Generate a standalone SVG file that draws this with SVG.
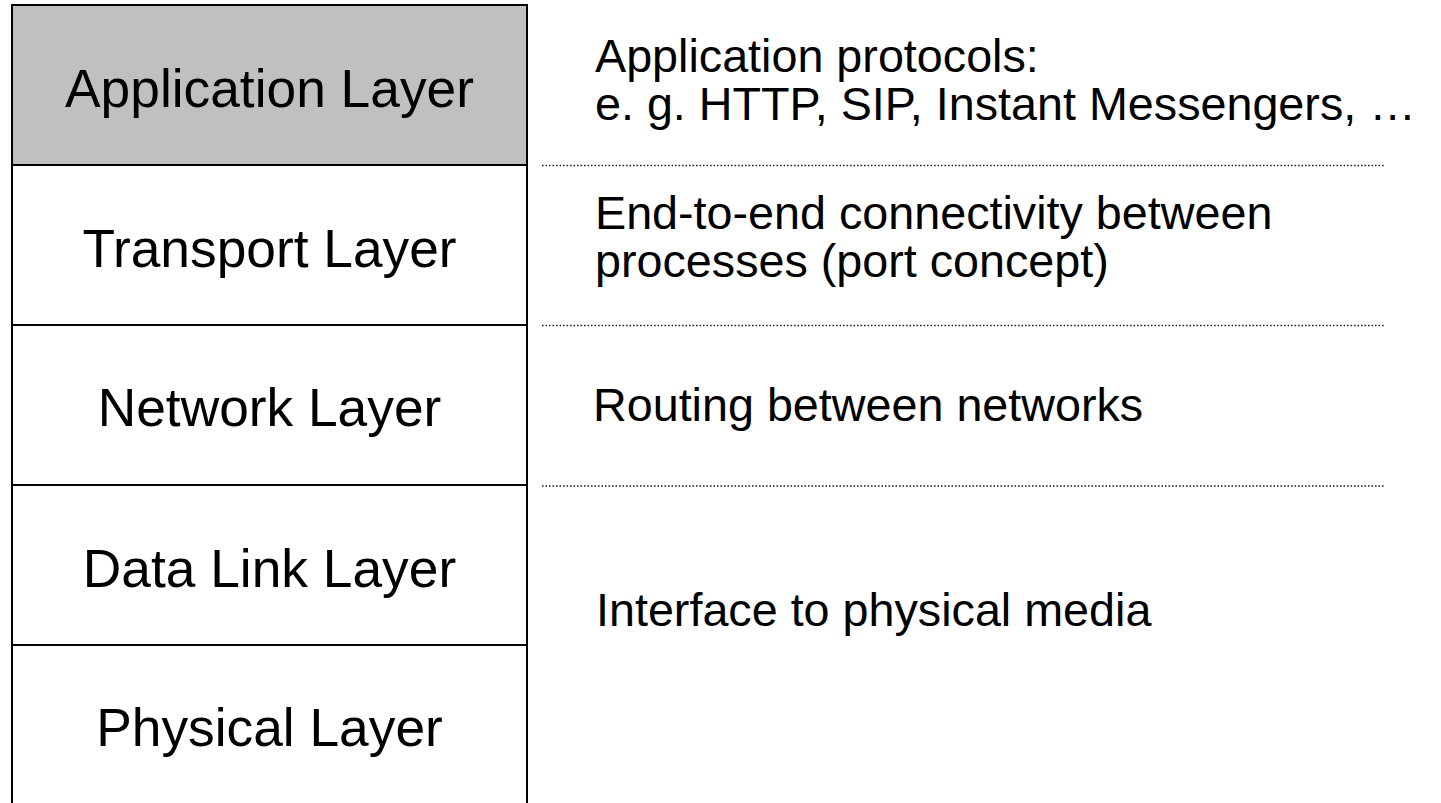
<svg xmlns="http://www.w3.org/2000/svg" width="1441" height="803" viewBox="0 0 1441 803">
  <style>
    .box { stroke: #000; stroke-width: 2; }
    .layer { font-family: "Liberation Sans", Arial, sans-serif; font-size: 53.3px; fill: #000; text-anchor: middle; }
    .desc { font-family: "Liberation Sans", Arial, sans-serif; font-size: 46.7px; fill: #000; }
    .sep { stroke: #222; stroke-width: 1.6; stroke-dasharray: 1.6 1.9; fill: none; }
  </style>
  <rect x="0" y="0" width="1441" height="803" fill="#fff"/>
  <g id="application-layer">
    <rect class="box" x="12" y="5" width="515" height="160" fill="#c0c0c0"/>
    <text class="layer" x="269.5" y="107">Application Layer</text>
  </g>
  <g id="transport-layer">
    <rect class="box" x="12" y="165" width="515" height="160" fill="#fff"/>
    <text class="layer" x="269.5" y="267">Transport Layer</text>
  </g>
  <g id="network-layer">
    <rect class="box" x="12" y="325" width="515" height="160" fill="#fff"/>
    <text class="layer" x="269.5" y="426">Network Layer</text>
  </g>
  <g id="data-link-layer">
    <rect class="box" x="12" y="485" width="515" height="160" fill="#fff"/>
    <text class="layer" x="269.5" y="587">Data Link Layer</text>
  </g>
  <g id="physical-layer">
    <path class="box" d="M12,645 H527 M12,645 V803 M527,645 V803" fill="none"/>
    <text class="layer" x="269.5" y="746">Physical Layer</text>
  </g>
  <g id="connectors">
    <line class="sep" x1="542" y1="165.5" x2="1385" y2="165.5"/>
    <line class="sep" x1="542" y1="325.5" x2="1385" y2="325.5"/>
    <line class="sep" x1="542" y1="486" x2="1385" y2="486"/>
  </g>
  <g id="desc-application">
    <text class="desc" x="595" y="72">Application protocols:</text>
    <text class="desc" x="595" y="120">e. g. HTTP, SIP, Instant Messengers, …</text>
  </g>
  <g id="desc-transport">
    <text class="desc" x="595" y="229">End-to-end connectivity between</text>
    <text class="desc" x="595" y="277">processes (port concept)</text>
  </g>
  <g id="desc-network">
    <text class="desc" x="593" y="421">Routing between networks</text>
  </g>
  <g id="desc-link">
    <text class="desc" x="596" y="626">Interface to physical media</text>
  </g>
</svg>
